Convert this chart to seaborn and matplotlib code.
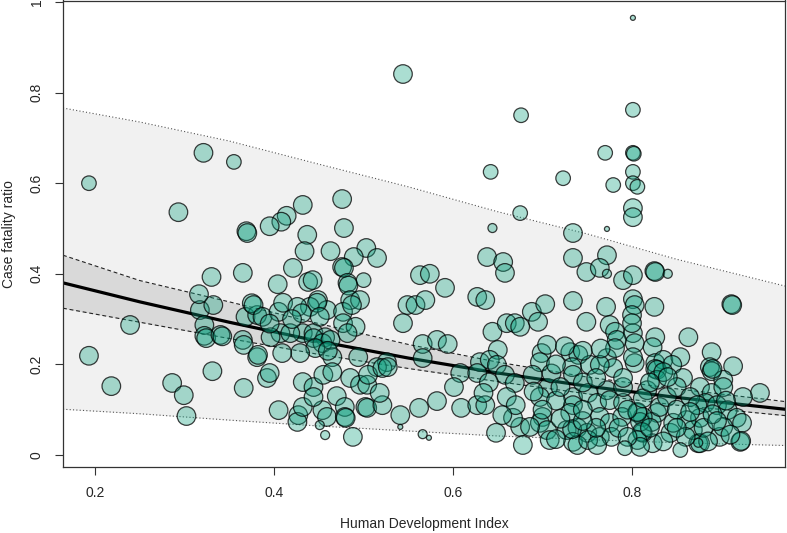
import matplotlib.pyplot as plt
import pandas as pd
import seaborn as sns

# fitted curve, confidence band and prediction band, read at a few HDI values
band_hdi = [0.164, 0.25, 0.35, 0.45, 0.55, 0.65, 0.75, 0.85, 0.971]
fit_cfr = [0.380, 0.338, 0.293, 0.251, 0.214, 0.181, 0.152, 0.127, 0.101]
ci_hi = [0.441, 0.385, 0.338, 0.290, 0.244, 0.205, 0.172, 0.146, 0.118]
ci_lo = [0.324, 0.293, 0.257, 0.222, 0.191, 0.162, 0.135, 0.110, 0.087]
pi_hi = [0.766, 0.735, 0.693, 0.642, 0.592, 0.537, 0.488, 0.432, 0.373]
pi_lo = [0.101, 0.091, 0.077, 0.064, 0.053, 0.042, 0.034, 0.027, 0.021]

# (HDI, case fatality ratio) per country, grouped by marker size
large_left = [
    (0.193, 0.219), (0.218, 0.152), (0.239, 0.287), (0.286, 0.159), (0.299, 0.132), (0.302, 0.086),
    (0.331, 0.185), (0.366, 0.148), (0.317, 0.320), (0.322, 0.287), (0.322, 0.263), (0.324, 0.258),
    (0.340, 0.265), (0.342, 0.262), (0.332, 0.331), (0.368, 0.305), (0.381, 0.309), (0.365, 0.254),
    (0.366, 0.243), (0.381, 0.216), (0.321, 0.667), (0.293, 0.536), (0.369, 0.494), (0.370, 0.490),
    (0.330, 0.393), (0.365, 0.402), (0.316, 0.355), (0.375, 0.335),
]
large_mid = [
    (0.432, 0.552), (0.476, 0.565), (0.414, 0.528), (0.408, 0.515), (0.395, 0.505), (0.478, 0.501),
    (0.437, 0.486), (0.434, 0.450), (0.463, 0.450), (0.503, 0.457), (0.515, 0.435), (0.489, 0.437),
    (0.476, 0.415), (0.478, 0.413), (0.421, 0.413), (0.438, 0.382), (0.443, 0.386), (0.404, 0.377),
    (0.482, 0.380), (0.483, 0.374), (0.449, 0.342), (0.440, 0.327), (0.459, 0.320), (0.485, 0.342),
    (0.496, 0.342), (0.477, 0.316), (0.487, 0.331), (0.377, 0.331), (0.387, 0.305), (0.405, 0.316),
    (0.410, 0.336), (0.426, 0.327), (0.431, 0.313), (0.448, 0.336), (0.451, 0.305), (0.477, 0.291),
    (0.491, 0.283), (0.407, 0.269), (0.432, 0.269), (0.444, 0.269), (0.457, 0.260), (0.396, 0.260),
    (0.482, 0.269), (0.418, 0.269), (0.444, 0.258), (0.454, 0.247), (0.463, 0.254), (0.446, 0.236),
    (0.429, 0.225), (0.409, 0.225), (0.382, 0.221), (0.465, 0.216), (0.494, 0.216), (0.526, 0.205),
    (0.515, 0.194), (0.549, 0.331), (0.544, 0.291), (0.558, 0.331), (0.569, 0.342), (0.563, 0.397),
    (0.574, 0.400), (0.591, 0.369), (0.566, 0.245), (0.582, 0.254), (0.594, 0.245), (0.566, 0.214),
    (0.608, 0.181), (0.627, 0.349), (0.636, 0.342), (0.638, 0.437), (0.656, 0.426), (0.658, 0.402),
    (0.644, 0.272), (0.650, 0.232), (0.660, 0.291), (0.669, 0.291), (0.675, 0.283), (0.688, 0.316),
    (0.695, 0.294), (0.703, 0.333), (0.630, 0.205), (0.641, 0.210), (0.649, 0.199), (0.627, 0.181),
    (0.699, 0.225), (0.544, 0.841), (0.420, 0.300), (0.395, 0.290), (0.460, 0.230), (0.470, 0.130),
]
large_right = [
    (0.801, 0.545), (0.801, 0.525), (0.734, 0.490), (0.734, 0.435), (0.772, 0.441), (0.749, 0.404),
    (0.764, 0.413), (0.790, 0.386), (0.801, 0.397), (0.825, 0.406), (0.826, 0.404), (0.734, 0.340),
    (0.771, 0.327), (0.801, 0.344), (0.803, 0.331), (0.800, 0.309), (0.825, 0.327), (0.911, 0.333),
    (0.912, 0.331), (0.749, 0.294), (0.775, 0.287), (0.781, 0.272), (0.801, 0.269), (0.803, 0.247),
    (0.826, 0.260), (0.823, 0.238), (0.863, 0.260), (0.889, 0.227), (0.913, 0.196), (0.731, 0.227),
    (0.740, 0.221), (0.772, 0.214), (0.779, 0.192), (0.803, 0.203), (0.826, 0.203), (0.835, 0.210),
    (0.854, 0.216), (0.887, 0.194), (0.889, 0.185), (0.902, 0.166), (0.943, 0.137), (0.924, 0.128),
    (0.890, 0.190), (0.826, 0.190), (0.828, 0.188), (0.845, 0.199), (0.857, 0.170), (0.876, 0.150),
    (0.889, 0.137), (0.902, 0.150), (0.882, 0.115), (0.895, 0.110), (0.907, 0.099), (0.917, 0.082),
    (0.923, 0.071), (0.921, 0.029), (0.922, 0.031), (0.898, 0.040), (0.902, 0.062), (0.874, 0.026),
    (0.843, 0.049), (0.846, 0.071), (0.868, 0.055), (0.876, 0.082), (0.861, 0.077), (0.828, 0.093),
    (0.823, 0.026), (0.812, 0.049), (0.822, 0.073), (0.831, 0.106), (0.839, 0.128), (0.850, 0.150),
    (0.865, 0.128), (0.873, 0.110), (0.812, 0.084), (0.817, 0.143), (0.828, 0.166), (0.835, 0.183),
    (0.840, 0.172), (0.800, 0.291),
]
large_dense = [
    (0.801, 0.216), (0.783, 0.254), (0.781, 0.236), (0.705, 0.243), (0.697, 0.205), (0.733, 0.194),
    (0.734, 0.177), (0.753, 0.199), (0.764, 0.199), (0.658, 0.177), (0.669, 0.159), (0.660, 0.128),
    (0.689, 0.177), (0.706, 0.148), (0.697, 0.128), (0.700, 0.084), (0.697, 0.071), (0.705, 0.055),
    (0.708, 0.033), (0.675, 0.062), (0.678, 0.022), (0.667, 0.082), (0.727, 0.055), (0.739, 0.060),
    (0.734, 0.029), (0.750, 0.049), (0.734, 0.128), (0.734, 0.110), (0.731, 0.093), (0.751, 0.137),
    (0.761, 0.115), (0.772, 0.143), (0.775, 0.121), (0.764, 0.084), (0.775, 0.071), (0.764, 0.040),
    (0.777, 0.040), (0.790, 0.115), (0.789, 0.084), (0.806, 0.093), (0.809, 0.073), (0.811, 0.051),
    (0.806, 0.033), (0.809, 0.018), (0.686, 0.062), (0.739, 0.022), (0.751, 0.033), (0.761, 0.022),
    (0.876, 0.026), (0.806, 0.095), (0.795, 0.100), (0.733, 0.057), (0.760, 0.060), (0.745, 0.075),
    (0.720, 0.080), (0.715, 0.120), (0.710, 0.180), (0.720, 0.150), (0.745, 0.160), (0.760, 0.170),
    (0.790, 0.150), (0.790, 0.170), (0.812, 0.125), (0.820, 0.160), (0.850, 0.100), (0.860, 0.040),
    (0.880, 0.060), (0.890, 0.090), (0.905, 0.120), (0.715, 0.200), (0.725, 0.240), (0.745, 0.230),
    (0.765, 0.235), (0.700, 0.100), (0.715, 0.035), (0.745, 0.100), (0.785, 0.060), (0.795, 0.040),
    (0.820, 0.060), (0.835, 0.030), (0.850, 0.060), (0.865, 0.095), (0.885, 0.030), (0.895, 0.075),
    (0.910, 0.045), (0.690, 0.140), (0.670, 0.110), (0.640, 0.160),
]
large_low = [
    (0.405, 0.099), (0.427, 0.088), (0.426, 0.073), (0.432, 0.106), (0.454, 0.099), (0.459, 0.084),
    (0.479, 0.106), (0.479, 0.084), (0.480, 0.082), (0.488, 0.040), (0.502, 0.106), (0.504, 0.104),
    (0.521, 0.110), (0.541, 0.088), (0.562, 0.104), (0.582, 0.119), (0.609, 0.104), (0.601, 0.150),
    (0.627, 0.110), (0.636, 0.110), (0.634, 0.137), (0.648, 0.049), (0.655, 0.088), (0.392, 0.170),
    (0.395, 0.181), (0.432, 0.161), (0.444, 0.150), (0.444, 0.128), (0.455, 0.177), (0.465, 0.183),
    (0.485, 0.170), (0.496, 0.155), (0.504, 0.155), (0.505, 0.177), (0.518, 0.137), (0.521, 0.192),
    (0.527, 0.194),
]
medium_pts = [
    (0.193, 0.600), (0.355, 0.647), (0.675, 0.534), (0.676, 0.750), (0.642, 0.625), (0.723, 0.611),
    (0.770, 0.667), (0.801, 0.667), (0.802, 0.665), (0.801, 0.625), (0.779, 0.596), (0.801, 0.600),
    (0.806, 0.592), (0.801, 0.762), (0.792, 0.015), (0.854, 0.011), (0.500, 0.386),
]
small_pts = [
    (0.644, 0.501), (0.772, 0.400), (0.840, 0.400), (0.451, 0.066), (0.457, 0.044), (0.566, 0.046),
    (0.874, 0.027),
]
tiny_pts = [(0.801, 0.965), (0.772, 0.499), (0.573, 0.038), (0.541, 0.062)]

groups = {
    "large": large_left + large_mid + large_right + large_dense + large_low,
    "medium": medium_pts,
    "small": small_pts,
    "tiny": tiny_pts,
}
rows = [(h, c, g) for g, pts in groups.items() for h, c in pts]
df = pd.DataFrame(rows, columns=["hdi", "cfr", "weight"])

sns.set_style("white")
plt.rcParams["font.family"] = ["Liberation Sans", "DejaVu Sans"]

fig, ax = plt.subplots(figsize=(7.87, 5.33), dpi=100)
fig.subplots_adjust(left=63 / 787, right=785 / 787, bottom=66 / 533, top=532.5 / 533)

# bands
ax.fill_between(band_hdi, pi_lo, pi_hi, color="#f1f1f1", lw=0, zorder=1)
ax.fill_between(band_hdi, ci_lo, ci_hi, color="#d9d9d9", lw=0, zorder=1)
for y in (pi_lo, pi_hi):
    ax.plot(band_hdi, y, color="#555555", lw=0.8, ls=(0, (1, 2)), zorder=2)
for y in (ci_lo, ci_hi):
    ax.plot(band_hdi, y, color="#222222", lw=0.8, ls=(0, (3.5, 2.5)), zorder=2)
sns.lineplot(x=band_hdi, y=fit_cfr, color="black", lw=2.3, ax=ax, zorder=2)

sns.scatterplot(data=df, x="hdi", y="cfr", size="weight",
                sizes={"large": 179, "medium": 110, "small": 42, "tiny": 13},
                legend=False, ax=ax, zorder=3, linewidth=0.9)
pts = ax.collections[-1]
pts.set_facecolor((0.06, 0.63, 0.50, 0.35))
pts.set_edgecolor((0, 0, 0, 0.75))

ax.set_xlim(0.164, 0.971)
ax.set_ylim(-0.0265, 1.0033)
ax.set_xticks([0.2, 0.4, 0.6, 0.8])
ax.set_xticklabels(["0.2", "0.4", "0.6", "0.8"])
ax.set_yticks([0, 0.2, 0.4, 0.6, 0.8, 1.0])
ax.set_yticklabels(["0", "0.2", "0.4", "0.6", "0.8", "1"])
ax.tick_params(direction="out", length=6, width=0.8, color="#333333", pad=8,
               labelsize=10, left=True, bottom=True)
ax.tick_params(axis="y", labelrotation=90)
for lab in ax.get_yticklabels():
    lab.set_va("center")

for sp in ax.spines.values():
    sp.set_visible(True)
    sp.set_color("#333333")
    sp.set_linewidth(0.9)

ax.set_xlabel("Human Development Index", fontsize=10)
ax.set_ylabel("Case fatality ratio", fontsize=10)
ax.xaxis.set_label_coords(0.5, -(524 - 467) / 467)
ax.xaxis.label.set_va("center")
ax.yaxis.set_label_coords(-(63 - 9) / 722, 0.5)
ax.yaxis.label.set_va("center")

plt.savefig("out.png", dpi=100)
